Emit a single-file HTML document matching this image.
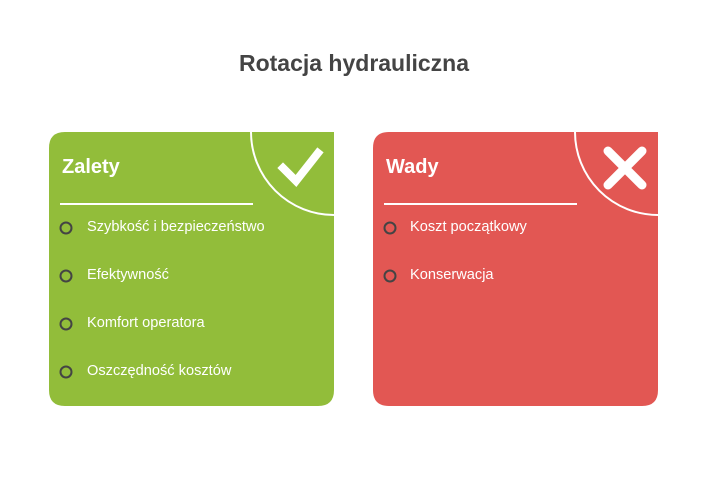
<!DOCTYPE html>
<html><head><style>
body{margin:0;width:708px;height:480px;background:#fff;font-family:"Liberation Sans",sans-serif;position:relative;overflow:hidden}
.t{position:absolute;top:50px;left:0;width:708px;text-align:center;font-size:23px;font-weight:bold;color:#444}
.txt{position:absolute;color:#fff;font-size:14.6px;white-space:nowrap}
.h{position:absolute;color:#fff;font-size:20px;font-weight:bold}
</style></head><body>
<div class="t">Rotacja hydrauliczna</div>
<svg width="708" height="480" style="position:absolute;left:0;top:0">
<defs>
<clipPath id="c1"><rect x="49" y="132" width="285" height="274"/></clipPath>
<clipPath id="c2"><rect x="373" y="132" width="285" height="274"/></clipPath>
</defs>
<path d="M65,132 H334 V390 Q334,406 318,406 H65 Q49,406 49,390 V148 Q49,132 65,132Z" fill="#92bd3a"/>
<path d="M389,132 H658 V390 Q658,406 642,406 H389 Q373,406 373,390 V148 Q373,132 389,132Z" fill="#e25753"/>
<circle cx="334" cy="132" r="83" fill="none" stroke="#fff" stroke-width="2" clip-path="url(#c1)"/>
<circle cx="658" cy="132" r="83" fill="none" stroke="#fff" stroke-width="2" clip-path="url(#c2)"/>
<line x1="60" y1="204" x2="253" y2="204" stroke="#fff" stroke-width="2"/>
<line x1="384" y1="204" x2="577" y2="204" stroke="#fff" stroke-width="2"/>
<path d="M283,168 L296,181 L318,153" fill="none" stroke="#fff" stroke-width="8" stroke-linecap="square"/>
<path d="M608,151 L642,185 M642,151 L608,185" stroke="#fff" stroke-width="9" stroke-linecap="round"/>
<g fill="none" stroke="#444" stroke-width="2">
<circle cx="66" cy="228" r="5.5"/><circle cx="66" cy="276" r="5.5"/><circle cx="66" cy="324" r="5.5"/><circle cx="66" cy="372" r="5.5"/>
<circle cx="390" cy="228" r="5.5"/><circle cx="390" cy="276" r="5.5"/>
</g>
</svg>
<div class="h" style="left:62px;top:156px">Zalety</div>
<div class="h" style="left:386px;top:156px">Wady</div>
<div class="txt" style="left:87px;top:219px">Szybkość i bezpieczeństwo</div>
<div class="txt" style="left:87px;top:267px">Efektywność</div>
<div class="txt" style="left:87px;top:315px">Komfort operatora</div>
<div class="txt" style="left:87px;top:363px">Oszczędność kosztów</div>
<div class="txt" style="left:410px;top:219px">Koszt początkowy</div>
<div class="txt" style="left:410px;top:267px">Konserwacja</div>
</body></html>
